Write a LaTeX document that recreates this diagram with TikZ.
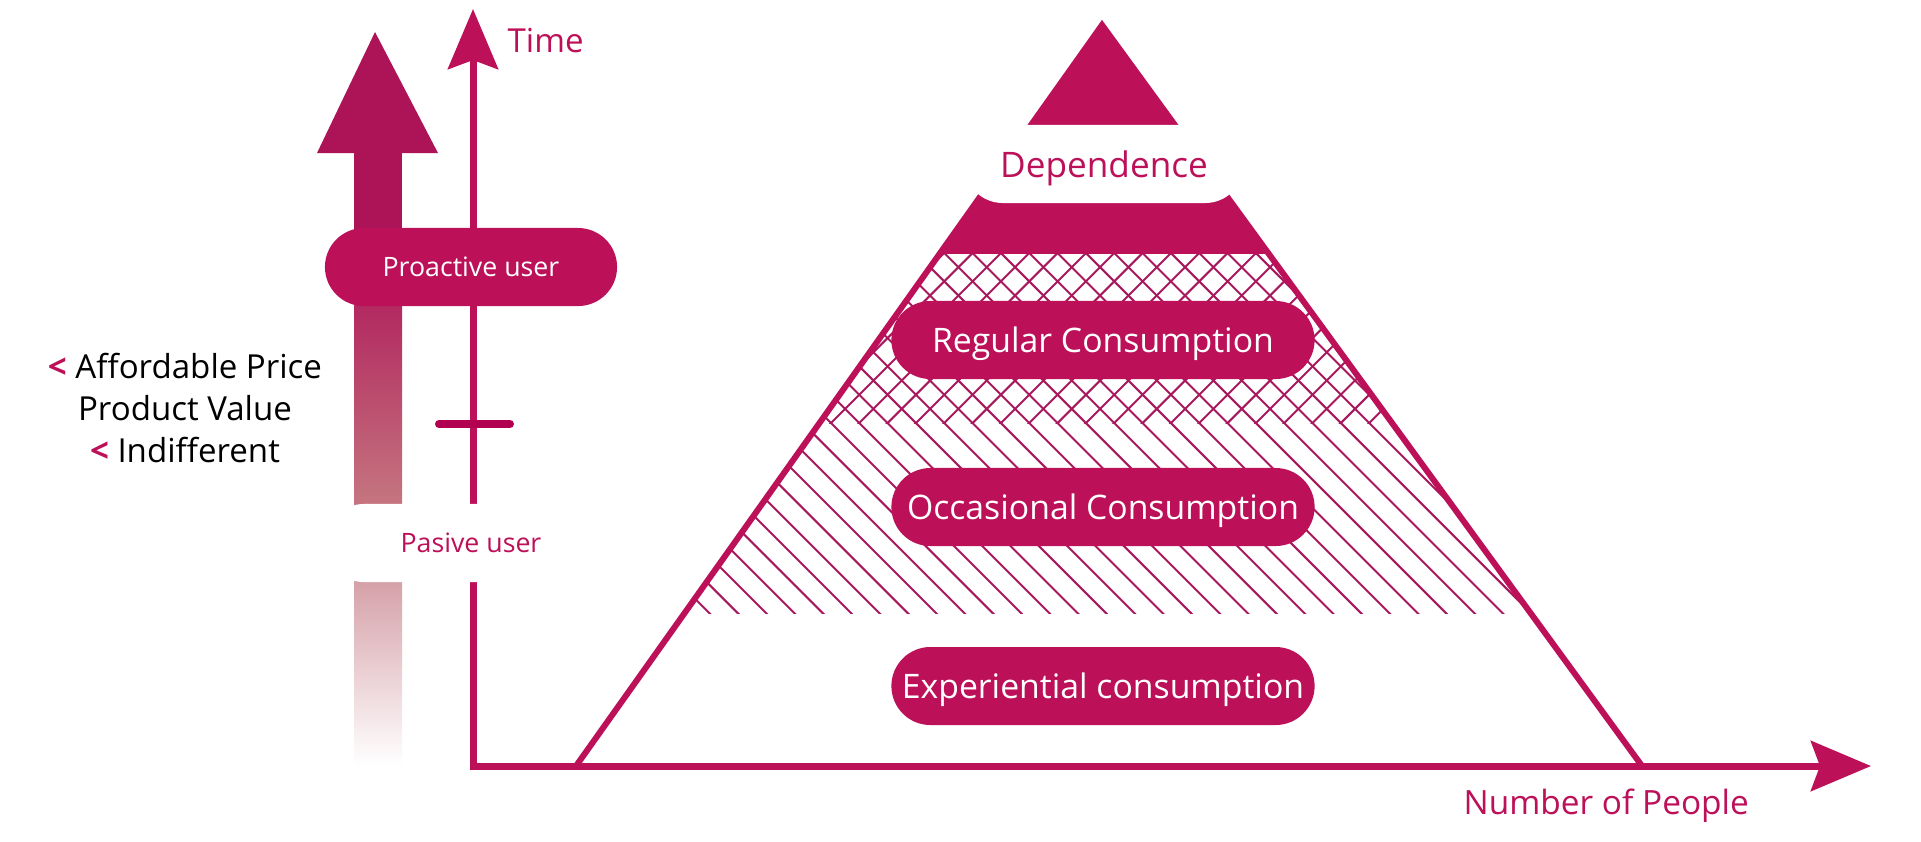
\documentclass[tikz,border=0pt]{standalone}
\usepackage{fontspec}
\setmainfont{Open Sans}
\usetikzlibrary{arrows.meta, positioning, calc}
\definecolor{mainC} {RGB}{188, 16, 88}
\definecolor{arrowC}{RGB}{173, 20, 87}
\definecolor{roseC} {RGB}{197,118,128}
\definecolor{paleC} {RGB}{213,160,168}
\definecolor{tickC} {RGB}{178,  0, 80}
\definecolor{hatchC}{RGB}{168, 24, 92}
\tikzset{
  pill/.style={fill=mainC, text=white, rounded corners=0.39cm, inner sep=0pt,
    minimum height=0.78cm, text depth=0pt},
  pillinv/.style={fill=white, text=mainC},
  bigpill/.style={pill, minimum width=4.23cm, font=\fontsize{9.6}{11}\selectfont},
  userpill/.style={pill, minimum width=2.92cm, font=\fontsize{7.6}{9}\selectfont},
  axisline/.style={mainC, line width=0.07cm},
  hatchline/.style={hatchC, line width=0.02cm},
  axislabel/.style={text=mainC, inner sep=0pt},
}

\begin{document}
\begin{tikzpicture}[x=0.01cm, y=-0.01cm]
\useasboundingbox (0,0) rectangle (1921,841);

% ============================================================
% Left: fading arrow + criteria
% ============================================================
\fill[arrowC] (354,150) rectangle (402,250);
\shade[top color=arrowC, bottom color=roseC] (354,250) rectangle (402,506);
\shade[top color=paleC, bottom color=white] (354,580) rectangle (402,765);
\fill[arrowC] (317,153) -- (375,32) -- (438,153) -- cycle;

\node[font=\fontsize{9.4}{12}\selectfont, align=center, inner sep=0pt] (crit)
  at (185,408)
  {{\color{mainC}\textbf{<}} Affordable Price\\Product Value\\{\color{mainC}\textbf{<}} Indifferent};

% ============================================================
% Pyramid
% ============================================================
\coordinate (pL) at (576,766);
\coordinate (pR) at (1642,766);
\coordinate (pT) at (1102,25);

% solid tip
\fill[mainC] (pT) -- ($(pT)!0.309!(pL)$) -- ($(pT)!0.309!(pR)$) -- cycle;

% hatching: single lines, cross lines on top part
\begin{scope}
  \clip (pL) -- (pT) -- (pR) -- cycle;
  \clip (500,254) rectangle (1700,613);
  \foreach \k in {-1,...,33}
    \draw[hatchline] ({719.3+28.33*\k},623) -- ++(-400,-400);
  \clip (500,254) rectangle (1700,423);
  \foreach \k in {3,...,32}
    \draw[hatchline] ({509.3+28.33*\k},433) -- ++(220,-220);
\end{scope}

\draw[mainC, line width=0.06cm] (pL) -- (pT) -- (pR);

% ============================================================
% Axes
% ============================================================
\coordinate (origin) at (473,766);
\coordinate (ttop)   at (473,9);
\coordinate (xend)   at (1871,766);

\draw[axisline,
  {Stealth[length=0.6cm, width=0.5cm, inset=0.09cm]}-{Stealth[length=0.6cm, width=0.5cm, inset=0.09cm]}]
  (ttop) -- (origin) -- (xend);

% tick on time axis
\draw[tickC, line width=0.08cm, line cap=round] (439,424) -- (510,424);

\node[axislabel, font=\fontsize{9.4}{11}\selectfont, anchor=base west] (tlab)
  at (507,52) {Time};
\node[axislabel, font=\fontsize{9.5}{11}\selectfont, anchor=base west] (nlab)
  at (1463,814) {Number of People};

% ============================================================
% Labels (pills)
% ============================================================
\node[userpill] (pro) at (471,267) {Proactive user};
\node[userpill, pillinv] (pas) at (471,543) {Pasive user};

\node[bigpill, pillinv, minimum width=2.80cm, font=\fontsize{10}{12}\selectfont]
  (dep) at (1104,164) {Dependence};
\node[bigpill] (reg)  at (1103,340) {Regular Consumption};
\node[bigpill] (occ)  at (1103,507) {Occasional Consumption};
\node[bigpill] (expe) at (1103,686) {Experiential consumption};

\end{tikzpicture}
\end{document}
